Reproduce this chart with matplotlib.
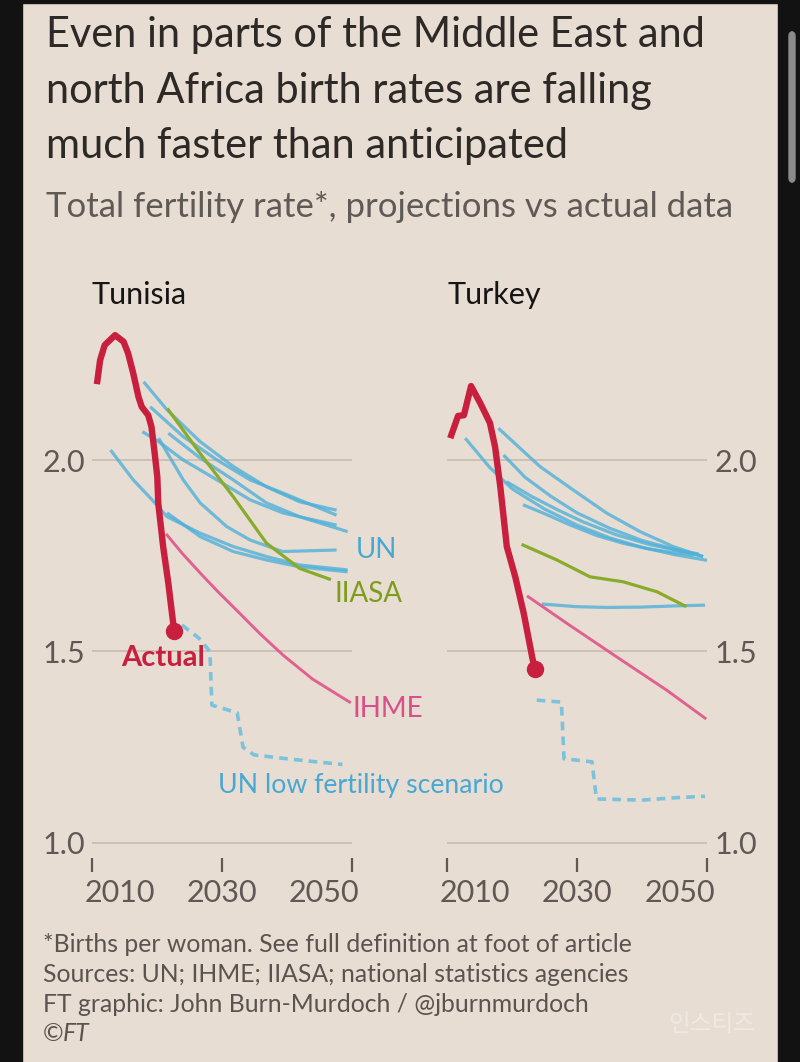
import matplotlib
matplotlib.use('Agg')
import matplotlib.pyplot as plt
from matplotlib.patches import Rectangle, FancyBboxPatch

plt.rcParams['font.family'] = ['Lato', 'DejaVu Sans']

# ---- data ----
x_ticks = [2010, 2030, 2050]
y_ticks = [1.0, 1.5, 2.0]
y_labels = ['1.0', '1.5', '2.0']

# Tunisia
tun_actual_yr = [2010.8, 2011.3, 2012.0, 2013.6, 2014.9, 2015.6, 2016.4, 2017.2, 2017.7, 2018.7,
                 2019.2, 2019.7, 2020.1, 2020.25, 2021.0, 2021.8, 2022.3, 2022.7]
tun_actual = [2.198, 2.261, 2.300, 2.326, 2.309, 2.279, 2.226, 2.165, 2.139, 2.117,
              2.087, 2.017, 1.956, 1.887, 1.774, 1.678, 1.608, 1.553]

tun_un = [
    ([2018.0, 2021.6, 2026.7, 2031.8, 2036.9, 2042.0, 2047.7],
     [2.204, 2.131, 2.048, 1.983, 1.930, 1.891, 1.869]),
    ([2019.0, 2024.1, 2029.3, 2034.4, 2039.4, 2047.7],
     [2.139, 2.061, 2.000, 1.948, 1.914, 1.856]),
    ([2021.8, 2026.7, 2031.8, 2036.9, 2042.0, 2049.4],
     [2.070, 2.005, 1.948, 1.888, 1.852, 1.813]),
    ([2017.8, 2020.3, 2024.1, 2029.3, 2034.4, 2039.4, 2047.7],
     [2.074, 2.048, 2.000, 1.948, 1.896, 1.862, 1.830]),
    ([2020.3, 2024.1, 2026.7, 2030.8, 2034.4, 2039.4, 2047.7],
     [2.057, 1.948, 1.888, 1.826, 1.791, 1.761, 1.765]),
    ([2012.9, 2016.4, 2019.3, 2021.6, 2026.7, 2031.8, 2036.9, 2042.0, 2049.4],
     [2.026, 1.948, 1.896, 1.852, 1.809, 1.774, 1.748, 1.726, 1.713]),
    ([2021.6, 2026.7, 2031.8, 2036.9, 2042.0, 2049.4],
     [1.862, 1.800, 1.761, 1.739, 1.721, 1.708]),
]
tun_iiasa_yr = [2021.8, 2026.7, 2031.8, 2036.9, 2042.0, 2046.6]
tun_iiasa = [2.131, 2.017, 1.904, 1.783, 1.717, 1.689]
tun_ihme_yr = [2021.6, 2024.0, 2026.7, 2029.5, 2032.3, 2036.0, 2039.5, 2044.0, 2049.7]
tun_ihme = [1.804, 1.755, 1.705, 1.655, 1.608, 1.545, 1.490, 1.428, 1.368]
tun_low_yr = [2023.9, 2026.5, 2028.2, 2028.5, 2032.4, 2033.3, 2035.0, 2040.0, 2048.6]
tun_low = [1.569, 1.535, 1.500, 1.360, 1.340, 1.250, 1.230, 1.220, 1.205]

# Turkey
tur_actual_yr = [2010.5, 2011.7, 2012.6, 2013.7, 2015.1, 2016.6, 2017.4, 2018.2, 2019.2,
                 2020.5, 2021.8, 2023.1, 2023.5]
tur_actual = [2.057, 2.115, 2.117, 2.193, 2.149, 2.097, 2.034, 1.930, 1.774,
              1.695, 1.600, 1.486, 1.454]

tur_un = [
    ([2017.9, 2024.3, 2029.4, 2034.6, 2039.7, 2044.8, 2049.4],
     [2.083, 1.983, 1.922, 1.861, 1.813, 1.774, 1.748]),
    ([2012.8, 2016.6, 2020.0, 2025.0, 2030.0, 2035.0, 2040.0, 2045.0, 2050.0],
     [2.057, 1.980, 1.925, 1.872, 1.830, 1.797, 1.772, 1.753, 1.738]),
    ([2018.7, 2022.0, 2026.0, 2030.0, 2035.0, 2040.0, 2045.0, 2049.4],
     [2.013, 1.955, 1.905, 1.862, 1.822, 1.790, 1.767, 1.748]),
    ([2019.2, 2023.0, 2027.0, 2031.0, 2036.0, 2041.0, 2046.0, 2048.7],
     [1.943, 1.905, 1.870, 1.838, 1.805, 1.780, 1.762, 1.755]),
    ([2021.7, 2025.0, 2029.0, 2033.0, 2037.0, 2041.0, 2045.0, 2048.0],
     [1.883, 1.860, 1.830, 1.803, 1.783, 1.768, 1.758, 1.752]),
    ([2024.6, 2030.0, 2034.6, 2040.0, 2045.0, 2049.7],
     [1.624, 1.617, 1.615, 1.616, 1.619, 1.621]),
]
tur_iiasa_yr = [2021.7, 2026.9, 2032.0, 2037.1, 2042.3, 2046.6]
tur_iiasa = [1.778, 1.739, 1.695, 1.682, 1.656, 1.619]
tur_ihme_yr = [2022.5, 2028.4, 2036.1, 2043.8, 2049.7]
tur_ihme = [1.643, 1.574, 1.486, 1.399, 1.326]
tur_low_yr = [2023.8, 2027.6, 2028.0, 2032.3, 2033.0, 2040.0, 2045.0, 2049.7]
tur_low = [1.373, 1.368, 1.220, 1.212, 1.115, 1.112, 1.118, 1.122]

# ---- style ----
BG = '#e8ddd2'
FRAME = '#121212'
TXT = '#2d2926'
GREY = '#5f5955'
GRID = '#cbbfb4'
RED = '#c81f3e'
BLUE = '#4fb0d9'
LBLUE = '#7cc2dd'
GREEN = '#88ab2c'
PINK = '#e0618f'

W, H = 800, 1062
Y_MIN, Y_MAX = 0.924, 2.40

fig = plt.figure(figsize=(W / 100, H / 100), dpi=100, facecolor=BG)


def fx(x):
    return x / W


def fy(y):
    return 1 - y / H


# phone screenshot frame
fig.patches.append(Rectangle((0, 0), fx(22), 1, transform=fig.transFigure, color=FRAME))
fig.patches.append(Rectangle((fx(778), 0), fx(22), 1, transform=fig.transFigure, color=FRAME))
fig.patches.append(Rectangle((0, fy(3)), 1, 3 / H, transform=fig.transFigure, color=FRAME))
fig.patches.append(FancyBboxPatch((fx(789), fy(182)), fx(6), 150 / H, transform=fig.transFigure,
                                  boxstyle='round,pad=0,rounding_size=0.004', color='#8a8a8a'))

# titles
for txt, base in [('Even in parts of the Middle East and', 47),
                  ('north Africa birth rates are falling', 103),
                  ('much faster than anticipated', 158)]:
    fig.text(fx(46), fy(base), txt, fontsize=29.9, color=TXT, va='baseline', ha='left')
fig.text(fx(46), fy(217), 'Total fertility rate*, projections vs actual data',
         fontsize=25, color='#605a56', va='baseline', ha='left')


def panel(px_left, px_right, title, right_labels):
    top = 460 - (Y_MAX - 2.0) * 383
    bot = 460 + (2.0 - Y_MIN) * 383
    ax = fig.add_axes([fx(px_left), 1 - bot / H, (px_right - px_left) / W, (bot - top) / H])
    ax.set_xlim(2010, 2050)
    ax.set_ylim(Y_MIN, Y_MAX)
    ax.patch.set_visible(False)
    for s in ax.spines.values():
        s.set_visible(False)
    ax.set_yticks(y_ticks)
    ax.set_yticklabels(y_labels)
    ax.grid(axis='y', color=GRID, lw=1.3)
    ax.set_axisbelow(True)
    if right_labels:
        ax.yaxis.tick_right()
        ax.tick_params(axis='y', length=0, pad=5.8, labelsize=22, labelcolor=GREY)
    else:
        ax.tick_params(axis='y', length=0, pad=4.8, labelsize=22, labelcolor=GREY)
    ax.set_xticks(x_ticks)
    ax.tick_params(axis='x', direction='in', length=10, width=1.6, color=GREY, labelbottom=False)
    for i, yr in enumerate(x_ticks):
        ha = ['left', 'center', 'right'][i]
        dx = [-7, 0, 8][i] * 0.72
        ax.annotate(str(yr), xy=(yr, 0), xycoords=('data', 'axes fraction'),
                    xytext=(dx, -21.6), textcoords='offset points',
                    ha=ha, va='baseline', fontsize=22, color=GREY)
    fig.text(fx(px_left), fy(304), title, fontsize=22, color='#151515', va='baseline')
    return ax


def draw(ax, un, iiasa_yr, iiasa, ihme_yr, ihme, low_yr, low, act_yr, act):
    for yrs, vals in un:
        ax.plot(yrs, vals, color=BLUE, lw=2.3, alpha=0.8, solid_capstyle='butt', clip_on=False)
    ax.plot(iiasa_yr, iiasa, color=GREEN, lw=2.3, clip_on=False)
    ax.plot(ihme_yr, ihme, color=PINK, lw=2.1, clip_on=False)
    ax.plot(low_yr, low, color=LBLUE, lw=2.6, linestyle=(0, (2.4, 1.7)), clip_on=False)
    ax.plot(act_yr, act, color=RED, lw=4.6, solid_joinstyle='round', solid_capstyle='butt', clip_on=False)
    ax.plot(act_yr[-1], act[-1], 'o', color=RED, ms=11.5, clip_on=False)


ax1 = panel(91.7, 351.5, 'Tunisia', False)
draw(ax1, tun_un, tun_iiasa_yr, tun_iiasa, tun_ihme_yr, tun_ihme, tun_low_yr, tun_low,
     tun_actual_yr, tun_actual)
ax1.text(2050.7, 1.745, 'UN', fontsize=20, color='#48a8d2', va='baseline')
ax1.text(2047.4, 1.629, 'IIASA', fontsize=20, color='#7d9c1e', va='baseline')
ax1.text(2050.1, 1.329, 'IHME', fontsize=20, color='#d8508a', va='baseline')
ax1.text(2029.5, 1.131, 'UN low fertility scenario', fontsize=19.2, color='#48a8d2', va='baseline')
ax1.text(2014.6, 1.463, 'Actual', fontsize=21, fontweight='bold', color=RED, va='baseline')

ax2 = panel(447, 707, 'Turkey', True)
draw(ax2, tur_un, tur_iiasa_yr, tur_iiasa, tur_ihme_yr, tur_ihme, tur_low_yr, tur_low,
     tur_actual_yr, tur_actual)

# footnotes
notes = ['*Births per woman. See full definition at foot of article',
         'Sources: UN; IHME; IIASA; national statistics agencies',
         'FT graphic: John Burn-Murdoch / @jburnmurdoch']
for i, n in enumerate(notes):
    fig.text(fx(43), fy(952 + 30 * i), n, fontsize=17.8, color='#5a5450', va='baseline')
fig.text(fx(43), fy(1041), '©', fontsize=17.8, color='#5a5450', va='baseline')
fig.text(fx(63), fy(1041), 'FT', fontsize=17.8, color='#5a5450', va='baseline', style='italic')

# watermark
fig.text(fx(668), fy(1031), '인스티즈', fontsize=17, color='#f4eee9', alpha=0.75,
         family=['Noto Sans CJK KR', 'DejaVu Sans'], va='baseline')

fig.savefig('out.png', dpi=100, facecolor=BG)
